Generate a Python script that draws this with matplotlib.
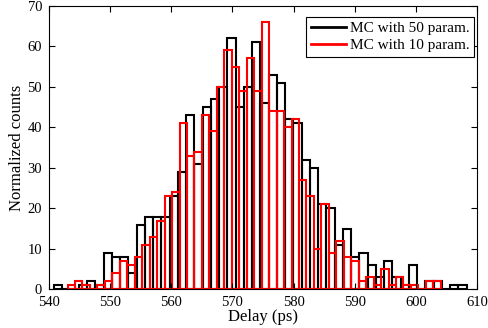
import numpy as np
import matplotlib
matplotlib.use('Agg')
import matplotlib.pyplot as plt
from matplotlib.lines import Line2D

plt.rcParams['font.family'] = ['Liberation Serif', 'DejaVu Serif']

# histogram counts (50 bins each)
black_range = (540.85, 608.3)
black_counts = [1, 0, 0, 1, 2, 1, 9, 8, 8, 4,
                16, 18, 18, 18, 23, 29, 43, 31, 45, 47,
                50, 62, 45, 50, 61, 46, 53, 51, 42, 41,
                32, 30, 21, 20, 11, 15, 8, 9, 6, 3,
                7, 3, 1, 6, 0, 2, 2, 0, 1, 1]

red_range = (543.03, 604.08)
red_counts = [1, 2, 1, 0, 1, 2, 4, 7, 6, 8,
              11, 13, 17, 23, 24, 41, 33, 34, 43, 39,
              50, 59, 55, 49, 57, 49, 66, 44, 44, 40,
              42, 27, 23, 10, 21, 9, 12, 8, 7, 2,
              3, 1, 5, 1, 3, 1, 1, 0, 2, 2]

labels = ['MC with 50 param.', 'MC with 10 param.']

fig = plt.figure(figsize=(4.88, 3.28), dpi=100)
ax = fig.add_axes([0.1004, 0.1174, 0.8771, 0.8652])

black_edges = np.linspace(black_range[0], black_range[1], len(black_counts) + 1)
red_edges = np.linspace(red_range[0], red_range[1], len(red_counts) + 1)

ax.bar(black_edges[:-1], black_counts, width=np.diff(black_edges), align='edge',
       fill=False, edgecolor='black', linewidth=1.5)
ax.bar(red_edges[:-1], red_counts, width=np.diff(red_edges), align='edge',
       fill=False, edgecolor='red', linewidth=1.5)

ax.set_xlim(540, 610)
ax.set_ylim(0, 70)
ax.set_xticks(range(540, 611, 10))
ax.set_yticks(range(0, 71, 10))
ax.tick_params(direction='in', top=True, right=True, length=4, labelsize=10.5, width=0.8)
ax.tick_params(axis='x', pad=5)
ax.tick_params(axis='y', pad=5)
for s in ax.spines.values():
    s.set_linewidth(0.8)

ax.set_xlabel('Delay (ps)', fontsize=12, labelpad=0)
ax.set_ylabel('Normalized counts', fontsize=12, labelpad=2)

handles = [Line2D([], [], color='black', lw=2), Line2D([], [], color='red', lw=2)]
leg = ax.legend(handles, labels, loc='upper right', bbox_to_anchor=(0.994, 0.96),
                fontsize=11, fancybox=False, framealpha=1, edgecolor='black',
                handlelength=2.3, handletextpad=0.3, borderpad=0.3, labelspacing=0.2,
                borderaxespad=0)
leg.get_frame().set_linewidth(0.8)

fig.savefig('out.png', dpi=100)
